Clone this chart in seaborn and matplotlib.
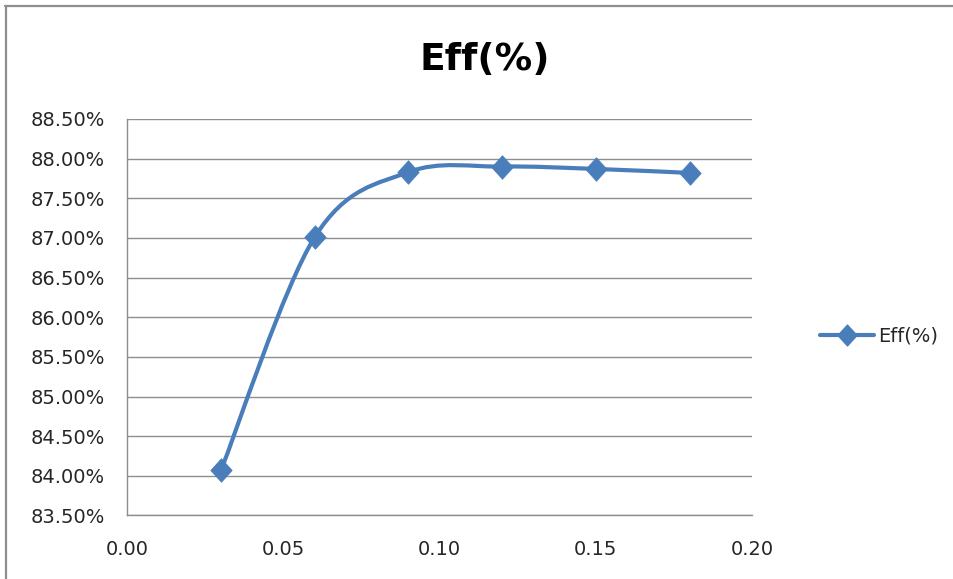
import numpy as np
import pandas as pd
import seaborn as sns
import matplotlib
matplotlib.use("Agg")
import matplotlib.pyplot as plt
from matplotlib.path import Path
from matplotlib.patches import PathPatch
from matplotlib.lines import Line2D
from matplotlib.ticker import FuncFormatter, MultipleLocator

# ---- data ----
x_values = [0.03, 0.06, 0.09, 0.12, 0.15, 0.18]
eff_values = [84.07, 87.01, 87.83, 87.90, 87.87, 87.82]
series_name = "Eff(%)"
title_text = "Eff(%)"

df = pd.DataFrame({"x": x_values, "eff": eff_values})

sns.set_theme(style="white")
plt.rcParams["font.family"] = ["DejaVu Sans"]

BLUE = "#4a7ebb"
GRID = "#8e8e8e"
TXT = "#262626"

fig = plt.figure(figsize=(9.54, 5.79), dpi=100)
ax = fig.add_axes([0.1334, 0.1097, 0.6549, 0.6848])

# Smoothed line (Excel-like Catmull-Rom Bezier) built from the data arrays
pts = np.column_stack([df["x"].to_numpy(), df["eff"].to_numpy()])
n = len(pts)
verts = [tuple(pts[0])]
codes = [Path.MOVETO]
for i in range(n - 1):
    p0 = pts[i - 1] if i > 0 else pts[i]
    p1 = pts[i]
    p2 = pts[i + 1]
    p3 = pts[i + 2] if i + 2 < n else pts[i + 1]
    c1 = p1 + (p2 - p0) / 6.0
    c2 = p2 - (p3 - p1) / 6.0
    verts += [tuple(c1), tuple(c2), tuple(p2)]
    codes += [Path.CURVE4] * 3
patch = PathPatch(Path(verts, codes), facecolor="none", edgecolor=BLUE,
                  lw=3.0, capstyle="round", joinstyle="round", zorder=3)
ax.add_patch(patch)

diamond = Path([(0, 1.1), (1, 0), (0, -1.1), (-1, 0), (0, 1.1)],
               [Path.MOVETO, Path.LINETO, Path.LINETO, Path.LINETO, Path.CLOSEPOLY])
sns.scatterplot(data=df, x="x", y="eff", ax=ax, marker=diamond, s=17.0 ** 2,
                color=BLUE, edgecolor=BLUE, linewidth=0.5, zorder=4, legend=False)

ax.set_xlim(0, 0.20)
ax.set_ylim(83.5, 88.5)
ax.xaxis.set_major_locator(MultipleLocator(0.05))
ax.yaxis.set_major_locator(MultipleLocator(0.5))
ax.xaxis.set_major_formatter(FuncFormatter(lambda v, p: f"{v:.2f}"))
ax.yaxis.set_major_formatter(FuncFormatter(lambda v, p: f"{v:.2f}%"))
ax.set_xlabel("")
ax.set_ylabel("")

ax.grid(axis="y", color=GRID, lw=1.0)
ax.grid(axis="x", visible=False)
for s in ["top", "right"]:
    ax.spines[s].set_visible(False)
for s in ["left", "bottom"]:
    ax.spines[s].set_color(GRID)
    ax.spines[s].set_linewidth(1.0)
ax.tick_params(axis="both", which="major", direction="out", length=6, width=1.0,
               color=GRID, labelsize=14, labelcolor=TXT)
ax.tick_params(axis="y", pad=10)
ax.tick_params(axis="x", pad=12)
ax.set_axisbelow(True)

fig.text(0.508, 0.896, title_text, ha="center", va="center", fontsize=27,
         fontweight="bold", color="black")

handle = Line2D([0], [0], color=BLUE, lw=3.0, marker=diamond, markersize=15,
                markerfacecolor=BLUE, markeredgecolor=BLUE)
fig.legend([handle], [series_name], loc="center left", bbox_to_anchor=(0.841, 0.42),
           frameon=False, fontsize=14, handlelength=2.8, handletextpad=0.2,
           labelcolor=TXT)

# chart-area border (top and left visible)
fig.add_artist(Line2D([5 / 954, 1.0], [1 - 6 / 579, 1 - 6 / 579],
                      transform=fig.transFigure, color=GRID, lw=1.6))
fig.add_artist(Line2D([6 / 954, 6 / 954], [0.0, 1 - 6 / 579],
                      transform=fig.transFigure, color=GRID, lw=1.6))

fig.savefig("out.png", dpi=100, facecolor="white")
